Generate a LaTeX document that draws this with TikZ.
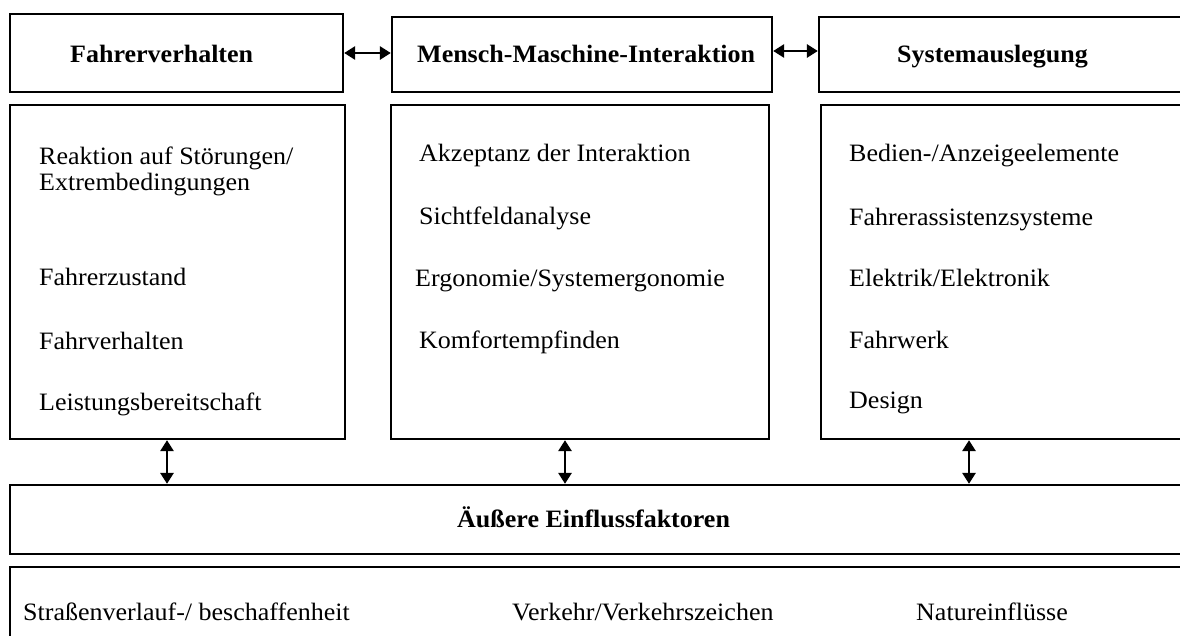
\documentclass[tikz,border=0pt]{standalone}
\usepackage{fontspec}
\setmainfont{Liberation Serif}[FakeStretch=1.04]
\usetikzlibrary{arrows.meta}
\tikzset{
  box/.style={draw, line width=1.3pt, rectangle, inner sep=0pt, minimum width=#1},
  head/.style={font=\fontsize{25}{29}\selectfont\bfseries, inner sep=0pt, anchor=base west},
  item/.style={font=\fontsize{25}{29}\selectfont, inner sep=0pt, anchor=base west},
  biarrow/.style={line width=2.8pt, {Triangle[length=11pt,width=13pt]}-{Triangle[length=11pt,width=13pt]}, shorten <=0.5pt, shorten >=0.5pt}
}
\begin{document}
\begin{tikzpicture}[x=1pt,y=-1pt]
\useasboundingbox (0,0) rectangle (1180,635);
\clip (0,0) rectangle (1180,635);
\fill[white] (0,0) rectangle (1180,635);
% header boxes
\node[box=333pt, minimum height=78pt] (h1) at (176.5,53) {};
\node[box=380pt, minimum height=75pt] (h2) at (582,54.5) {};
\node[box=381pt, minimum height=75pt] (h3) at (1009.5,54.5) {};
% content boxes
\node[box=335pt, minimum height=334pt] (c1) at (177.5,272) {};
\node[box=378pt, minimum height=334pt] (c2) at (580,272) {};
\node[box=379pt, minimum height=334pt] (c3) at (1010.5,272) {};
% bottom boxes
\node[box=1190pt, minimum height=69pt] (ext) at (605,519.5) {};
\node[box=1190pt, minimum height=133pt] (bot) at (605,633.5) {};
% header texts
\node[head] (t1) at (70,62) {Fahrerverhalten};
\node[head] (t2) at (417,62) {Mensch-Maschine-Interaktion};
\node[head] (t3) at (897,62) {Systemauslegung};
\node[head] (t4) at (457,527) {Äußere Einflussfaktoren};
% column 1
\node[item] (a1) at (39,164) {Reaktion auf Störungen/};
\node[item] (a2) at (39,190) {Extrembedingungen};
\node[item] (a3) at (39,285) {Fahrerzustand};
\node[item] (a4) at (39,349) {Fahrverhalten};
\node[item] (a5) at (39,410) {Leistungsbereitschaft};
% column 2
\node[item] (b1) at (419,161) {Akzeptanz der Interaktion};
\node[item] (b2) at (419,224) {Sichtfeldanalyse};
\node[item] (b3) at (415,286) {Ergonomie/Systemergonomie};
\node[item] (b4) at (419,348) {Komfortempfinden};
% column 3
\node[item] (d1) at (849,161) {Bedien-/Anzeigeelemente};
\node[item] (d2) at (849,225) {Fahrerassistenzsysteme};
\node[item] (d3) at (849,286) {Elektrik/Elektronik};
\node[item] (d4) at (849,348) {Fahrwerk};
\node[item] (d5) at (849,408) {Design};
% bottom row
\node[item] (e1) at (23,620) {Straßenverlauf-/ beschaffenheit};
\node[item] (e2) at (512,620) {Verkehr/Verkehrszeichen};
\node[item] (e3) at (916,620) {Natureinflüsse};
% arrows
\draw[biarrow] (h1.east) -- (h1.east -| h2.west);
\draw[biarrow] ([yshift=3.5pt]h2.east) -- ([yshift=3.5pt]h2.east -| h3.west);
\coordinate (x1) at (167,0);
\coordinate (x2) at (565,0);
\coordinate (x3) at (969,0);
\draw[biarrow] (x1 |- c1.south) -- (x1 |- ext.north);
\draw[biarrow] (x2 |- c2.south) -- (x2 |- ext.north);
\draw[biarrow] (x3 |- c3.south) -- (x3 |- ext.north);
\end{tikzpicture}
\end{document}
